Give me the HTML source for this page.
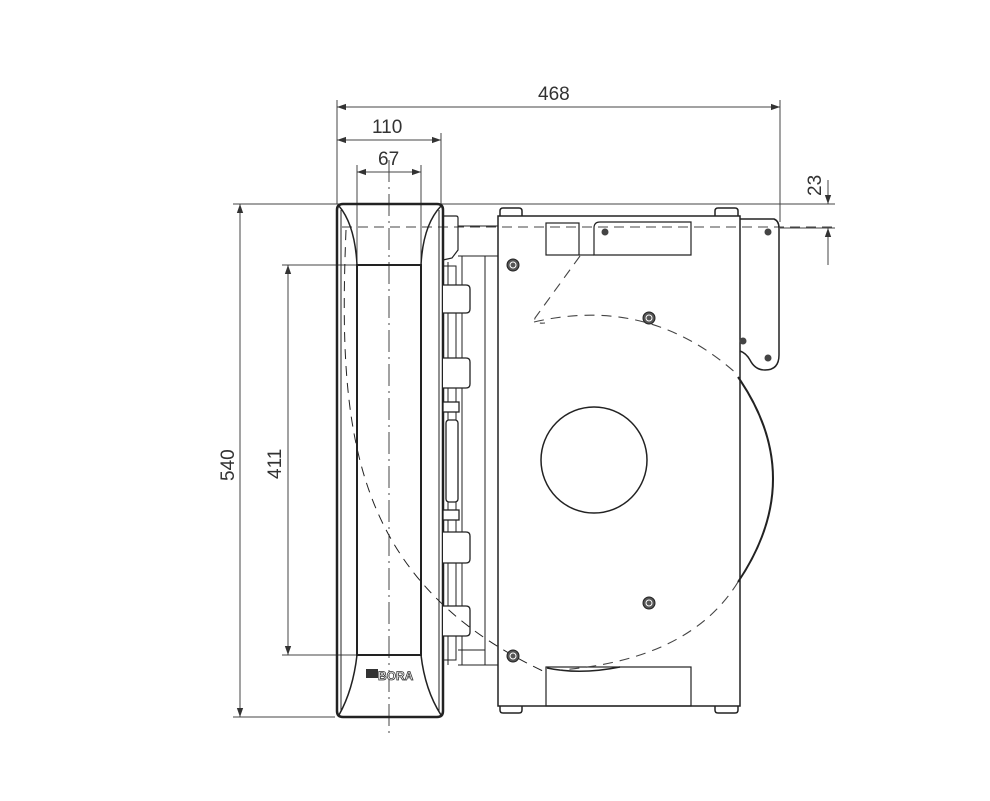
<!DOCTYPE html>
<html><head><meta charset="utf-8"><style>
html,body{margin:0;padding:0;background:#fff;}
svg{display:block;}
text{font-family:"Liberation Sans",sans-serif;font-size:19px;fill:#333;}
</style></head><body>
<svg width="990" height="801" viewBox="0 0 990 801" xmlns="http://www.w3.org/2000/svg">
<defs>
<marker id="a" viewBox="0 0 10 10" refX="10" refY="5" markerWidth="9" markerHeight="9" orient="auto-start-reverse" markerUnits="userSpaceOnUse"><path d="M0,1.5 L10,5 L0,8.5 z" fill="#333"/></marker>
</defs>
<g stroke="#444" stroke-width="1" fill="none">
<line x1="337" y1="100" x2="337" y2="204"/>
<line x1="441" y1="133" x2="441" y2="204"/>
<line x1="357" y1="165" x2="357" y2="265"/>
<line x1="421" y1="165" x2="421" y2="265"/>
<line x1="780" y1="100" x2="780" y2="222"/>
<line x1="233" y1="204" x2="835" y2="204"/>
<line x1="233" y1="717" x2="335" y2="717"/>
<line x1="282" y1="265" x2="357" y2="265"/>
<line x1="282" y1="655" x2="357" y2="655"/>
<line x1="780" y1="228" x2="835" y2="228"/>
<line x1="337" y1="107" x2="780" y2="107" marker-start="url(#a)" marker-end="url(#a)"/>
<line x1="337" y1="140" x2="441" y2="140" marker-start="url(#a)" marker-end="url(#a)"/>
<line x1="357" y1="172" x2="421" y2="172" marker-start="url(#a)" marker-end="url(#a)"/>
<line x1="240" y1="204" x2="240" y2="717" marker-start="url(#a)" marker-end="url(#a)"/>
<line x1="288" y1="265" x2="288" y2="655" marker-start="url(#a)" marker-end="url(#a)"/>
<line x1="828" y1="180" x2="828" y2="204" marker-end="url(#a)"/>
<line x1="828" y1="265" x2="828" y2="228" marker-end="url(#a)"/>
<line x1="389" y1="160" x2="389" y2="738" stroke-dasharray="22,5,2,5"/>
<line x1="342" y1="227" x2="835" y2="227" stroke-dasharray="10,6"/>
</g>
<text x="538" y="100">468</text>
<text x="372" y="133">110</text>
<text x="378" y="165">67</text>
<text transform="translate(234,481) rotate(-90)">540</text>
<text transform="translate(281,479) rotate(-90)">411</text>
<text transform="translate(821,196) rotate(-90)">23</text>

<g stroke="#222" fill="none">
<path d="M343,204 L437,204 Q443,204 443,210 L443,711 Q443,717 437,717 L343,717 Q337,717 337,711 L337,210 Q337,204 343,204 Z" stroke-width="2.5"/>
<line x1="341" y1="210" x2="341" y2="712" stroke-width="1"/>
<line x1="439" y1="210" x2="439" y2="712" stroke-width="1"/>
<rect x="357" y="265" width="64" height="390" stroke-width="2"/>
<path d="M339,206 Q355,225 357,265 M441,206 Q423,225 421,265" stroke-width="1.5"/>
<path d="M357,655 Q353,690 339,715 M421,655 Q425,690 441,715" stroke-width="1.5"/>
<path d="M443,216 L456,216 Q458,216 458,218 L458,250 L452,258 L443,260" stroke-width="1.2"/>
<path d="M443,266 L456,266 L456,660 L443,660" stroke-width="1"/>
<line x1="448" y1="262" x2="448" y2="665" stroke-width="1"/>
<line x1="462" y1="256" x2="462" y2="665" stroke-width="1"/>
<line x1="485" y1="256" x2="485" y2="665" stroke-width="1"/>
<line x1="458" y1="226" x2="498" y2="226" stroke-width="1"/>
<line x1="458" y1="256" x2="498" y2="256" stroke-width="1"/>
<line x1="458" y1="665" x2="498" y2="665" stroke-width="1"/>
<line x1="458" y1="650" x2="485" y2="650" stroke-width="1"/>
<g fill="#fff" stroke-width="1.3">
<path d="M443,285 L466,285 Q470,285 470,289 L470,309 Q470,313 466,313 L443,313"/>
<path d="M443,358 L466,358 Q470,358 470,362 L470,384 Q470,388 466,388 L443,388"/>
<path d="M443,532 L466,532 Q470,532 470,536 L470,559 Q470,563 466,563 L443,563"/>
<path d="M443,606 L466,606 Q470,606 470,610 L470,632 Q470,636 466,636 L443,636"/>
<rect x="443" y="402" width="16" height="10"/><rect x="443" y="510" width="16" height="10"/>
<rect x="446" y="420" width="12" height="82" rx="3"/>
</g>
<path d="M346,230 C338,430 350,580 545,672" stroke-dasharray="10,7" stroke-width="1"/>
</g>
<rect x="366" y="669" width="12" height="9" fill="#333"/>
<text x="378" y="680" style="font-size:12px;font-weight:bold;fill:#fff;stroke:#333;stroke-width:0.8">BORA</text>

<g stroke="#222" fill="none" stroke-width="1.5">
<path d="M500,216 L500,211 Q500,208 503,208 L519,208 Q522,208 522,211 L522,216"/>
<path d="M715,216 L715,211 Q715,208 718,208 L735,208 Q738,208 738,211 L738,216"/>
<rect x="498" y="216" width="242" height="490"/>
<path d="M500,706 L500,710 Q500,713 503,713 L519,713 Q522,713 522,710 L522,706"/>
<path d="M715,706 L715,710 Q715,713 718,713 L735,713 Q738,713 738,710 L738,706"/>
<rect x="546" y="223" width="33" height="32" stroke-width="1.2"/>
<path d="M594,255 L594,228 Q594,222 600,222 L691,222 L691,255 Z" stroke-width="1.2"/>
<line x1="579" y1="255" x2="594" y2="255" stroke-width="1.2"/>
<path d="M740,219 L774,219 Q779,221 779,228 L779,355 Q779,370 765,370 Q755,370 750,360 Q746,353 740,351" stroke-width="1.5"/>
<rect x="546" y="667" width="145" height="39" stroke-width="1.2"/>
<circle cx="594" cy="460" r="53" stroke-width="1.5"/>
<path d="M738,377 Q808,478 738,582" stroke-width="2"/>
<path d="M547,668 Q580,675 620,667" stroke-width="1.5"/>
</g>
<g stroke="#444" fill="none" stroke-width="1.1" stroke-dasharray="10,7">
<path d="M534,322 Q650,295 738,375"/>
<path d="M738,582 Q690,660 560,670"/>
<path d="M580,256 L535,318 Q533,324 545,323"/>
</g>
<g fill="#555" stroke="#222">
<circle cx="513" cy="265" r="6"/><circle cx="649" cy="318" r="6"/><circle cx="649" cy="603" r="6"/><circle cx="513" cy="656" r="6"/>
</g>
<g fill="none" stroke="#fff" stroke-width="1"><circle cx="513" cy="265" r="3"/><circle cx="649" cy="318" r="3"/><circle cx="649" cy="603" r="3"/><circle cx="513" cy="656" r="3"/></g>
<g fill="#444"><circle cx="605" cy="232" r="3.5"/><circle cx="768" cy="232" r="3.5"/><circle cx="743" cy="341" r="3.5"/><circle cx="768" cy="358" r="3.5"/></g>
</svg>
</body></html>
